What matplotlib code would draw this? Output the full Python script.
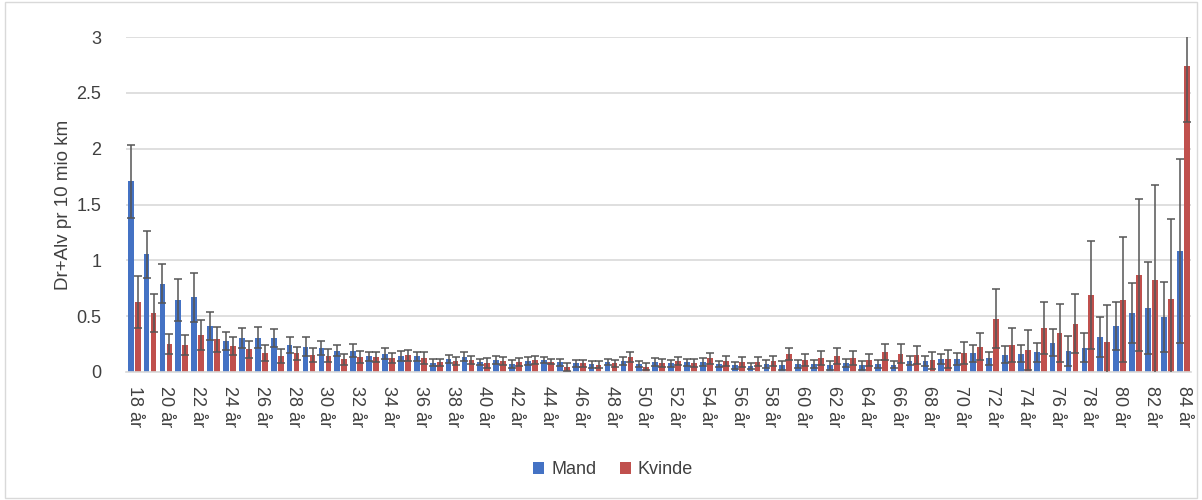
import numpy as np
import matplotlib
matplotlib.use("Agg")
import matplotlib.pyplot as plt
from matplotlib.patches import Rectangle

plt.rcParams['font.family'] = ['Liberation Sans', 'DejaVu Sans']

ages = list(range(18, 85))
labels = [f"{a} år" for a in ages]

mand = [1.707, 1.055, 0.79, 0.646, 0.67, 0.413, 0.278, 0.305, 0.308, 0.308, 0.242, 0.226,
        0.216, 0.19, 0.19, 0.141, 0.165, 0.144, 0.141, 0.084, 0.117, 0.138, 0.093, 0.11,
        0.072, 0.099, 0.105, 0.087, 0.078, 0.069, 0.09, 0.099, 0.072, 0.09, 0.078, 0.087,
        0.087, 0.072, 0.06, 0.054, 0.072, 0.06, 0.072, 0.072, 0.06, 0.078, 0.06, 0.072,
        0.065, 0.10, 0.10, 0.117, 0.117, 0.168, 0.123, 0.156, 0.165, 0.177, 0.263, 0.189,
        0.219, 0.311, 0.413, 0.53, 0.572, 0.494, 1.084]
mand_err = [0.33, 0.21, 0.175, 0.19, 0.22, 0.123, 0.078, 0.087, 0.093, 0.081, 0.069, 0.084,
            0.066, 0.051, 0.057, 0.039, 0.051, 0.048, 0.039, 0.03, 0.039, 0.042, 0.027, 0.036,
            0.036, 0.033, 0.027, 0.03, 0.03, 0.03, 0.027, 0.039, 0.024, 0.036, 0.03, 0.03,
            0.036, 0.03, 0.033, 0.024, 0.033, 0.042, 0.036, 0.036, 0.042, 0.036, 0.039, 0.036,
            0.03, 0.04, 0.045, 0.048, 0.054, 0.075, 0.06, 0.075, 0.075, 0.084, 0.12, 0.135,
            0.132, 0.18, 0.216, 0.266, 0.413, 0.315, 0.82]
kvinde = [0.628, 0.53, 0.251, 0.239, 0.335, 0.293, 0.233, 0.203, 0.167, 0.143, 0.167, 0.153,
          0.147, 0.114, 0.138, 0.135, 0.123, 0.15, 0.126, 0.087, 0.099, 0.111, 0.081, 0.10,
          0.093, 0.108, 0.093, 0.045, 0.078, 0.066, 0.078, 0.132, 0.048, 0.078, 0.096, 0.078,
          0.123, 0.099, 0.093, 0.093, 0.102, 0.162, 0.108, 0.129, 0.144, 0.123, 0.108, 0.18,
          0.165, 0.153, 0.105, 0.117, 0.17, 0.228, 0.479, 0.243, 0.195, 0.395, 0.35, 0.431,
          0.689, 0.266, 0.647, 0.871, 0.82, 0.656, 2.74]
kvinde_err = [0.236, 0.17, 0.09, 0.09, 0.135, 0.11, 0.084, 0.078, 0.072, 0.06, 0.06, 0.06,
              0.06, 0.048, 0.054, 0.048, 0.045, 0.048, 0.054, 0.033, 0.039, 0.036, 0.042, 0.036,
              0.036, 0.033, 0.024, 0.033, 0.03, 0.03, 0.03, 0.045, 0.03, 0.036, 0.036, 0.036,
              0.048, 0.045, 0.045, 0.039, 0.045, 0.057, 0.057, 0.063, 0.069, 0.063, 0.051, 0.072,
              0.087, 0.078, 0.075, 0.084, 0.096, 0.123, 0.261, 0.15, 0.177, 0.234, 0.26, 0.264,
              0.483, 0.33, 0.56, 0.68, 0.856, 0.713, 0.5]

BLUE = '#4472C4'
RED = '#C0504D'

fig = plt.figure(figsize=(12.02, 5.0), dpi=100)
fig.patches.append(Rectangle((0.004, 0.004), 0.992, 0.992, transform=fig.transFigure,
                             fill=False, edgecolor='#d9d9d9', linewidth=1))
ax = fig.add_axes([0.105, 0.256, 0.886, 0.670])

x = np.arange(len(ages))
w = 0.36
off = 0.22
ax.bar(x - off, mand, w, color=BLUE, label='Mand', zorder=2)
ax.bar(x + off, kvinde, w, color=RED, label='Kvinde', zorder=2)
ekw = dict(fmt='none', ecolor='#555555', elinewidth=1.1, capsize=3.2, capthick=1.1, zorder=3)
ax.errorbar(x - off, mand, yerr=mand_err, **ekw)
ax.errorbar(x + off, kvinde, yerr=kvinde_err, **ekw)

ax.set_xlim(-0.5, len(ages) - 0.5)
ax.set_ylim(0, 3)
ax.set_yticks([0, 0.5, 1, 1.5, 2, 2.5, 3])
ax.set_yticklabels(['0', '0.5', '1', '1.5', '2', '2.5', '3'])
ax.yaxis.grid(True, color='#d9d9d9', linewidth=1.2, zorder=0)
ax.set_axisbelow(True)
for s in ['top', 'right', 'left']:
    ax.spines[s].set_visible(False)
ax.spines['bottom'].set_color('#d9d9d9')
ax.spines['bottom'].set_linewidth(1.2)
ax.tick_params(axis='y', length=0, labelsize=13, labelcolor='#404040', pad=18)
ax.set_xticks(x[::2])
ax.set_xticklabels(labels[::2], rotation=-90, fontsize=13, color='#404040')
ax.tick_params(axis='x', length=0, pad=10)
ax.set_ylabel('Dr+Alv pr 10 mio km', fontsize=13.5, color='#404040', labelpad=3)

fig.legend(*ax.get_legend_handles_labels(), loc='center', bbox_to_anchor=(0.51, 0.06),
           ncol=2, frameon=False, fontsize=13, handlelength=0.6, handleheight=0.6,
           columnspacing=1.3, handletextpad=0.4, labelcolor='#404040')

fig.savefig('out.png', dpi=100)
